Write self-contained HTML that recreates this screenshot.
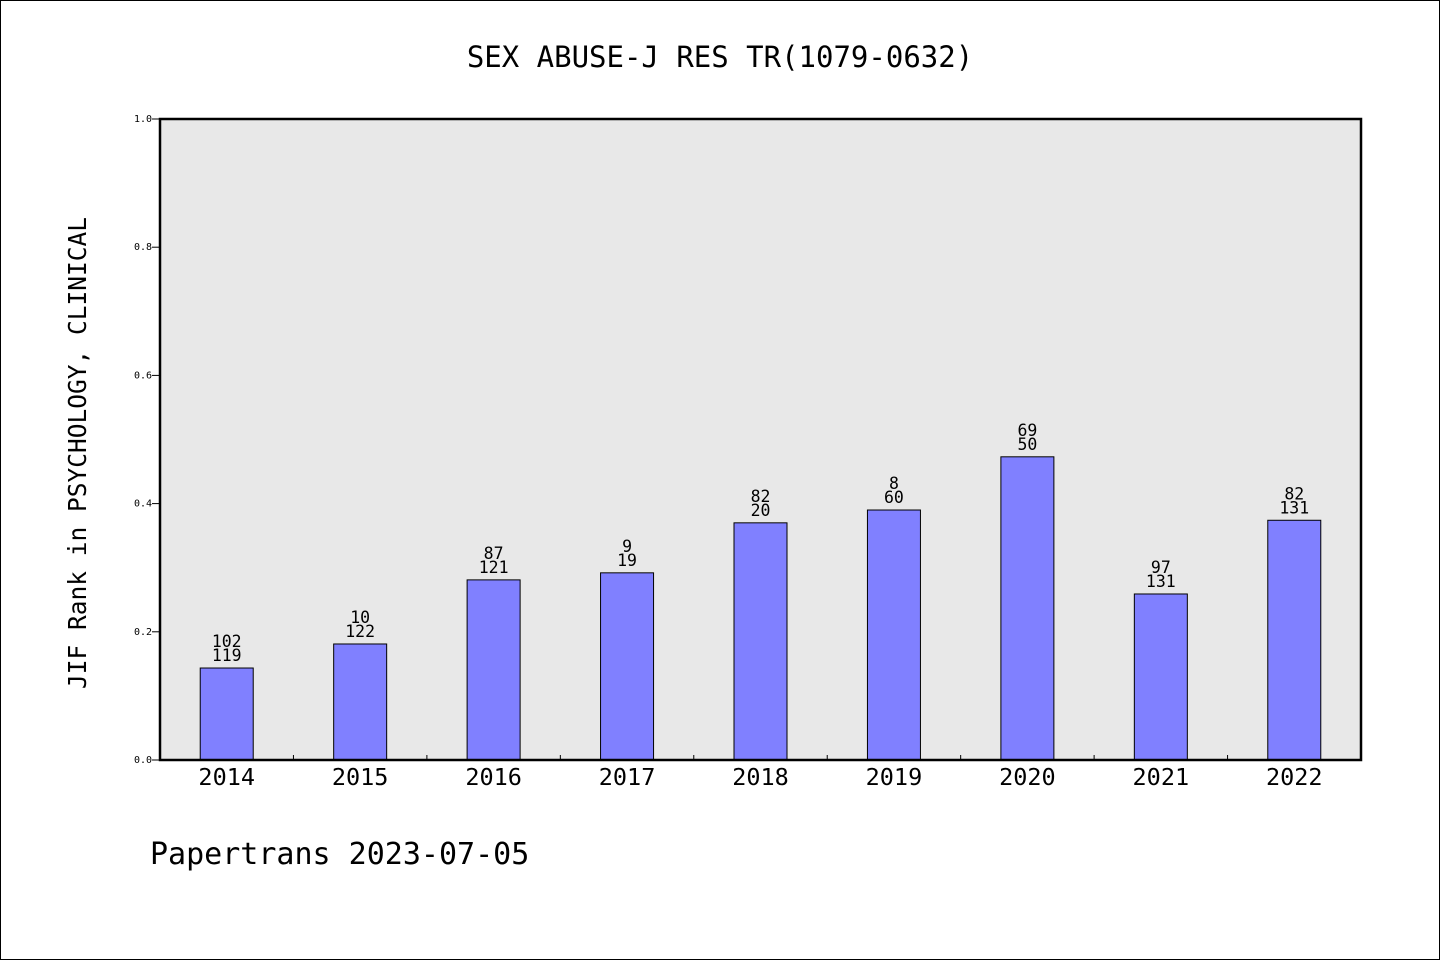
<!DOCTYPE html>
<html><head><meta charset="utf-8"><style>
body{margin:0;background:#fff}
svg text{font-family:"WenQuanYi Zen Hei Mono","DejaVu Sans Mono","Liberation Mono",monospace}
</style></head><body>
<svg id="c" width="1440" height="960" xmlns="http://www.w3.org/2000/svg">
<rect x="0.5" y="0.5" width="1439" height="959" fill="#fff" stroke="#000"/>
<text x="720" y="67" font-size="29" text-anchor="middle">SEX ABUSE-J RES TR(1079-0632)</text>
<rect x="160" y="119" width="1201" height="641" fill="#e8e8e8"/>
<g id="marks"></g>
<rect x="160" y="119" width="1201" height="641" fill="none" stroke="#000" stroke-width="2.5"/>
<text transform="translate(86,453) rotate(-90)" font-size="24.5" text-anchor="middle">JIF Rank in PSYCHOLOGY, CLINICAL</text>
<text x="150" y="864" font-size="30">Papertrans 2023-07-05</text>
</svg>
<script>
const categories=["2014","2015","2016","2017","2018","2019","2020","2021","2022"];
const values=[0.1435,0.181,0.281,0.292,0.370,0.390,0.473,0.259,0.374];
const rankLabels=["102","10","87","9","82","8","69","97","82"];
const totalLabels=["119","122","121","19","20","60","50","131","131"];
const yTicks=[0,0.2,0.4,0.6,0.8,1.0];
const yTickLabels=["0.0","0.2","0.4","0.6","0.8","1.0"];
const X0=160,X1=1361,Y0=760,Y1=119;
const NS="http://www.w3.org/2000/svg";
const g=document.getElementById('marks');
const bw=(X1-X0)/categories.length;
function y(v){return Y0-(Y0-Y1)*v;}
function xc(i){return X0+bw*(i+0.5);}
function mk(t,a){const e=document.createElementNS(NS,t);for(const k in a)e.setAttribute(k,a[k]);g.appendChild(e);return e;}
yTicks.forEach((v,i)=>{
  const l=mk('line',{x1:X0-8,x2:X0,y1:y(v),y2:y(v),stroke:'#000'});
  
  
  const t=mk('text',{x:X0-8,y:y(v)+3,'font-size':10,'text-anchor':'end'});
  t.textContent=yTickLabels[i];
  
  
});
categories.forEach((c,i)=>{
  if(i>0){const l=mk('line',{x1:X0+bw*i,x2:X0+bw*i,y1:Y0,y2:Y0-5,stroke:'#000'});
    
    }
  const b=mk('rect',{x:xc(i)-26.5,y:y(values[i]),width:53,height:Y0-y(values[i]),fill:'#8080ff',stroke:'#000','stroke-width':1});
  
  
  const t1=mk('text',{x:xc(i),y:y(values[i])-21,'font-size':16.5,'text-anchor':'middle'});
  t1.textContent=rankLabels[i];
  
  
  const t2=mk('text',{x:xc(i),y:y(values[i])-7,'font-size':16.5,'text-anchor':'middle'});
  t2.textContent=totalLabels[i];
  
  
  const xl=mk('text',{x:xc(i),y:785,'font-size':23.5,'text-anchor':'middle'});
  xl.textContent=c;
  
  
});
</script>
</body></html>
